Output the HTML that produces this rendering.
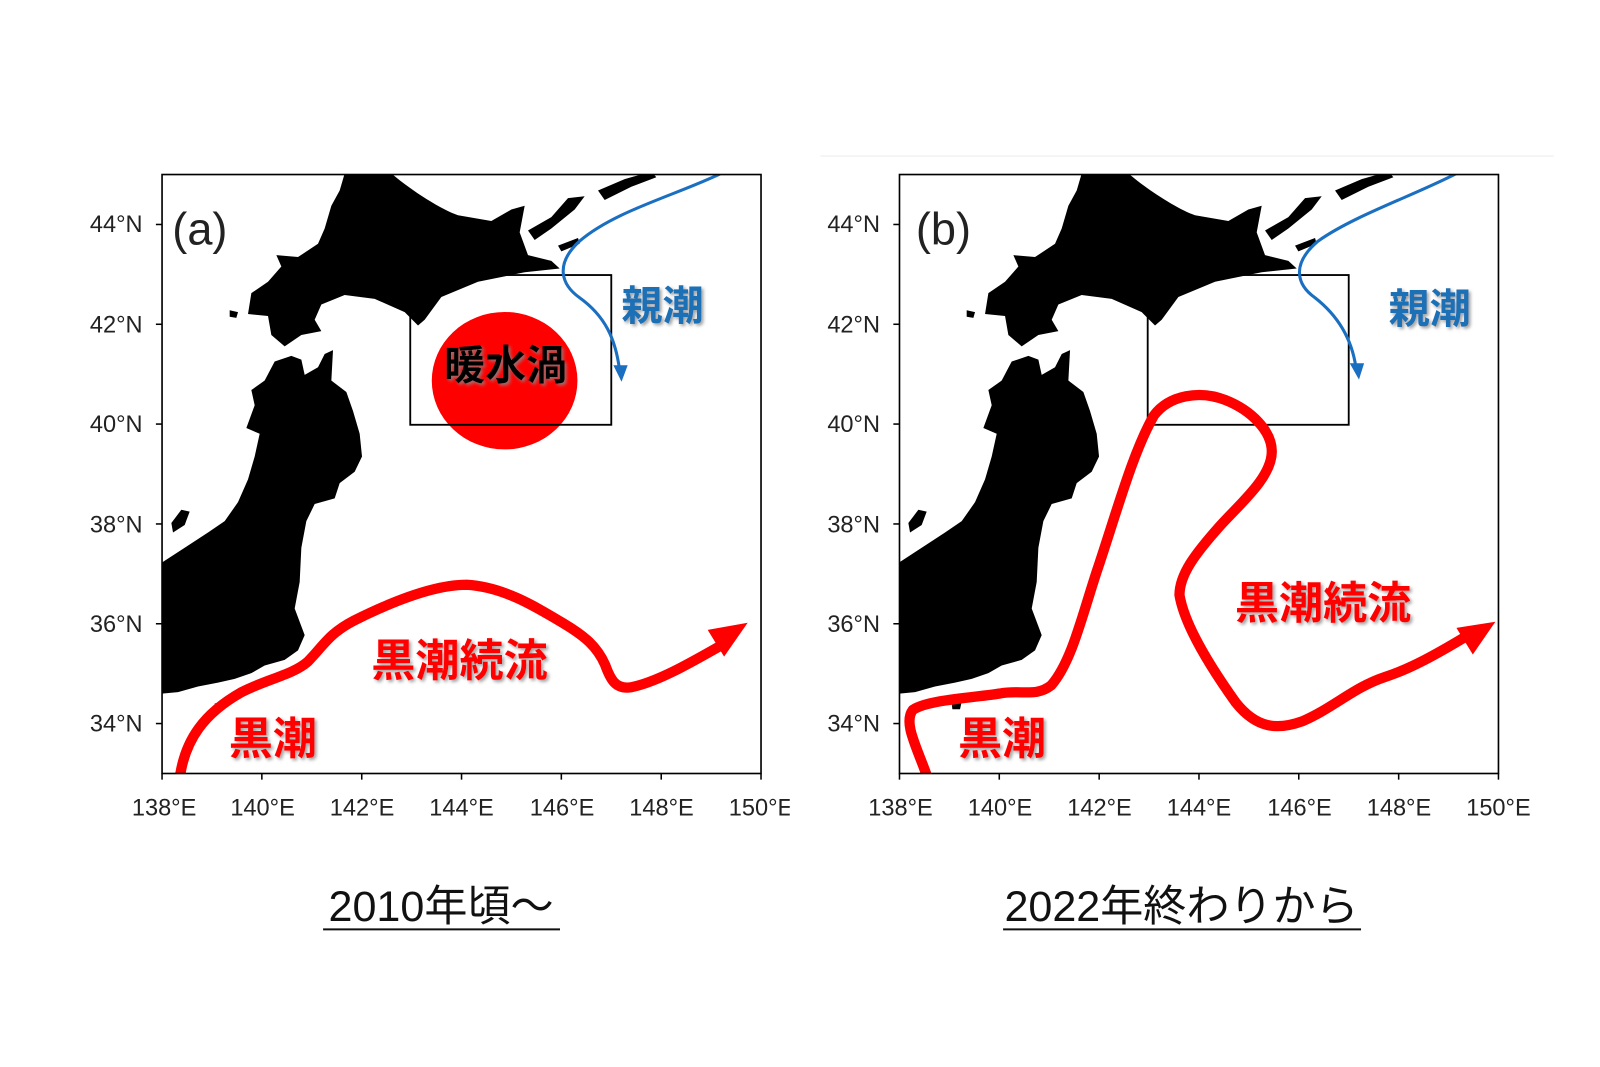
<!DOCTYPE html>
<html><head><meta charset="utf-8"><style>
html,body{margin:0;padding:0;background:#fff;}
svg{display:block;}
.tk{font-family:"Liberation Sans","DejaVu Sans",sans-serif;font-size:23px;fill:#222;}
.jp{font-family:"Liberation Sans","Noto Sans CJK JP",sans-serif;font-weight:bold;}
.cap{font-family:"Liberation Sans","Noto Sans CJK JP",sans-serif;font-size:42px;fill:#111;}
</style></head><body>
<svg width="1600" height="1067" viewBox="0 0 1560 1040" xmlns="http://www.w3.org/2000/svg">
<defs>
<clipPath id="ca"><rect x="158" y="170" width="584" height="584"/></clipPath>
<clipPath id="cb"><rect x="877" y="170" width="584" height="584"/></clipPath>
<clipPath id="cl"><rect x="0" y="0" width="770" height="1040"/></clipPath>
<filter id="sh" x="-10%" y="-10%" width="130%" height="130%"><feDropShadow dx="2" dy="2" stdDeviation="1.5" flood-color="#888" flood-opacity="0.8"/></filter>
<g id="land">
<path d="M560,15 L700,15 C760,60 850,110 900,125 L1000,140 L1060,110 L1100,100 L1085,170 L1110,230 L1180,245 L1205,265 L1100,275 L960,300 L850,340 L800,400 L780,415 L740,380 L650,345 L560,335 L490,360 L470,400 L490,430 L430,440 L380,470 L340,440 L330,390 L270,385 L280,330 L330,300 L370,260 L355,230 L420,235 L480,200 L500,160 L520,100 L545,60 Z"/>
<path d="M350,510 L400,495 L430,505 L440,545 L480,525 L500,490 L525,480 L520,560 L565,590 L585,640 L605,700 L612,760 L590,800 L545,830 L530,870 L470,885 L445,930 L430,1000 L425,1090 L410,1160 L440,1230 L420,1270 L380,1295 L320,1310 L280,1330 L230,1345 L180,1355 L120,1365 L60,1380 L0,1385 L-20,1385 L-20,1040 L10,1040 L80,1000 L150,960 L200,930 L240,880 L270,820 L290,760 L305,700 L265,685 L290,625 L280,585 L320,560 Z"/>
<path d="M1110,165 L1180,130 L1230,80 L1280,75 L1250,110 L1180,160 L1130,190 Z"/>
<path d="M1320,60 L1400,30 L1480,10 L1495,25 L1420,50 L1340,85 Z"/>
<path d="M1200,205 L1260,185 L1265,200 L1210,220 Z"/>
<path d="M40,935 L70,900 L95,905 L80,940 L45,960 Z"/>
<path d="M215,375 L240,380 L235,395 L215,392 Z"/>
<path d="M170,1410 L200,1405 L195,1425 L172,1425 Z"/>
</g>
</defs>

<!-- Panel a -->
<g clip-path="url(#ca)">
<use href="#land" transform="translate(154.06,163.4) scale(0.325,0.3705)" fill="#000"/>
<ellipse cx="492" cy="371" rx="71" ry="67" fill="#ff0000"/>
<rect x="400" y="268" width="196" height="146" fill="none" stroke="#000" stroke-width="1.8"/>
<path d="M175,760 C180,720 200,695 235,675 C260,662 285,658 300,645 C315,630 320,618 345,605 C375,590 420,570 455,570 C490,572 520,590 550,608 C570,620 582,630 590,648 C595,662 600,672 615,670 C640,665 670,648 705,628" fill="none" stroke="#ff0000" stroke-width="10" stroke-linecap="round"/>
<polygon points="729,607 690,614 706,640" fill="#ff0000"/>
<path d="M705,168 C660,190 600,205 565,235 C540,258 548,278 565,290 C590,308 600,330 604,360" fill="none" stroke="#1a6fc0" stroke-width="3"/>
<polygon points="606,372 598,356 612,356" fill="#1a6fc0"/>
</g>
<rect x="158" y="170" width="584" height="584" fill="none" stroke="#000" stroke-width="1.6"/>
<text x="168" y="238" font-family="Liberation Sans, DejaVu Sans, sans-serif" font-size="44" font-weight="300" fill="#222">(a)</text>
<text x="493" y="370" text-anchor="middle" class="jp" font-size="40" fill="#000" filter="url(#sh)">暖水渦</text>
<text x="646" y="312" text-anchor="middle" class="jp" font-size="40" fill="#1f6fb5" filter="url(#sh)">親潮</text>
<text x="448" y="659" text-anchor="middle" class="jp" font-size="43" fill="#ff0000" filter="url(#sh)">黒潮続流</text>
<text x="266" y="735" text-anchor="middle" class="jp" font-size="43" fill="#ff0000" filter="url(#sh)">黒潮</text>

<!-- Panel b -->
<line x1="800" y1="152" x2="1515" y2="152" stroke="#eee" stroke-width="1"/>
<g clip-path="url(#cb)">
<use href="#land" transform="translate(872.66,163.4) scale(0.325,0.3705)" fill="#000"/>
<rect x="1119" y="268" width="196" height="146" fill="none" stroke="#000" stroke-width="1.8"/>
<path d="M905,760 C895,730 880,705 890,692 C905,682 950,680 975,676 C995,672 1010,680 1025,668 C1045,645 1055,600 1070,555 C1090,495 1105,440 1125,405 C1140,385 1170,380 1195,390 C1220,400 1240,420 1240,440 C1240,465 1210,490 1190,512 C1165,540 1150,560 1150,580 C1155,610 1180,650 1205,685 C1225,710 1245,712 1270,703 C1300,690 1320,670 1350,660 C1375,652 1400,638 1430,620" fill="none" stroke="#ff0000" stroke-width="10" stroke-linecap="round"/>
<polygon points="1458,606 1420,612 1436,638" fill="#ff0000"/>
<path d="M1422,168 C1380,190 1320,210 1285,235 C1258,258 1265,278 1282,290 C1305,308 1318,330 1322,358" fill="none" stroke="#1a6fc0" stroke-width="3"/>
<polygon points="1325,370 1316,354 1330,354" fill="#1a6fc0"/>
</g>
<rect x="877" y="170" width="584" height="584" fill="none" stroke="#000" stroke-width="1.6"/>
<text x="893" y="238" font-family="Liberation Sans, DejaVu Sans, sans-serif" font-size="44" font-weight="300" fill="#222">(b)</text>
<text x="1394" y="315" text-anchor="middle" class="jp" font-size="40" fill="#1f6fb5" filter="url(#sh)">親潮</text>
<text x="1290" y="603" text-anchor="middle" class="jp" font-size="43" fill="#ff0000" filter="url(#sh)">黒潮続流</text>
<text x="977" y="735" text-anchor="middle" class="jp" font-size="43" fill="#ff0000" filter="url(#sh)">黒潮</text>

<!-- Ticks -->
<g stroke="#000" stroke-width="1.5">
<line x1="152" y1="218.7" x2="158" y2="218.7"/><line x1="152" y1="316" x2="158" y2="316"/><line x1="152" y1="413.3" x2="158" y2="413.3"/><line x1="152" y1="510.7" x2="158" y2="510.7"/><line x1="152" y1="608" x2="158" y2="608"/><line x1="152" y1="705.3" x2="158" y2="705.3"/>
<line x1="871" y1="218.7" x2="877" y2="218.7"/><line x1="871" y1="316" x2="877" y2="316"/><line x1="871" y1="413.3" x2="877" y2="413.3"/><line x1="871" y1="510.7" x2="877" y2="510.7"/><line x1="871" y1="608" x2="877" y2="608"/><line x1="871" y1="705.3" x2="877" y2="705.3"/>
<line x1="158" y1="754" x2="158" y2="760"/><line x1="255.3" y1="754" x2="255.3" y2="760"/><line x1="352.7" y1="754" x2="352.7" y2="760"/><line x1="450" y1="754" x2="450" y2="760"/><line x1="547.3" y1="754" x2="547.3" y2="760"/><line x1="644.7" y1="754" x2="644.7" y2="760"/><line x1="742" y1="754" x2="742" y2="760"/>
<line x1="877" y1="754" x2="877" y2="760"/><line x1="974.3" y1="754" x2="974.3" y2="760"/><line x1="1071.7" y1="754" x2="1071.7" y2="760"/><line x1="1169" y1="754" x2="1169" y2="760"/><line x1="1266.3" y1="754" x2="1266.3" y2="760"/><line x1="1363.7" y1="754" x2="1363.7" y2="760"/><line x1="1461" y1="754" x2="1461" y2="760"/>
</g>
<g class="tk" text-anchor="end">
<text x="139" y="226">44°N</text><text x="139" y="324">42°N</text><text x="139" y="421">40°N</text><text x="139" y="519">38°N</text><text x="139" y="616">36°N</text><text x="139" y="713">34°N</text>
<text x="858" y="226">44°N</text><text x="858" y="324">42°N</text><text x="858" y="421">40°N</text><text x="858" y="519">38°N</text><text x="858" y="616">36°N</text><text x="858" y="713">34°N</text>
</g>
<g class="tk" text-anchor="middle">
<text x="160" y="795">138°E</text><text x="256" y="795">140°E</text><text x="353" y="795">142°E</text><text x="450" y="795">144°E</text><text x="548" y="795">146°E</text><text x="645" y="795">148°E</text>
<text x="742" y="795" clip-path="url(#cl)">150°E</text>
<text x="878" y="795">138°E</text><text x="975" y="795">140°E</text><text x="1072" y="795">142°E</text><text x="1169" y="795">144°E</text><text x="1267" y="795">146°E</text><text x="1364" y="795">148°E</text><text x="1461" y="795">150°E</text>
</g>

<!-- Captions -->
<text x="430" y="898" text-anchor="middle" class="cap">2010年頃～</text>
<line x1="315" y1="906" x2="546" y2="906" stroke="#111" stroke-width="2"/>
<text x="1152" y="898" text-anchor="middle" class="cap">2022年終わりから</text>
<line x1="978" y1="906" x2="1327" y2="906" stroke="#111" stroke-width="2"/>
</svg>
</body></html>
